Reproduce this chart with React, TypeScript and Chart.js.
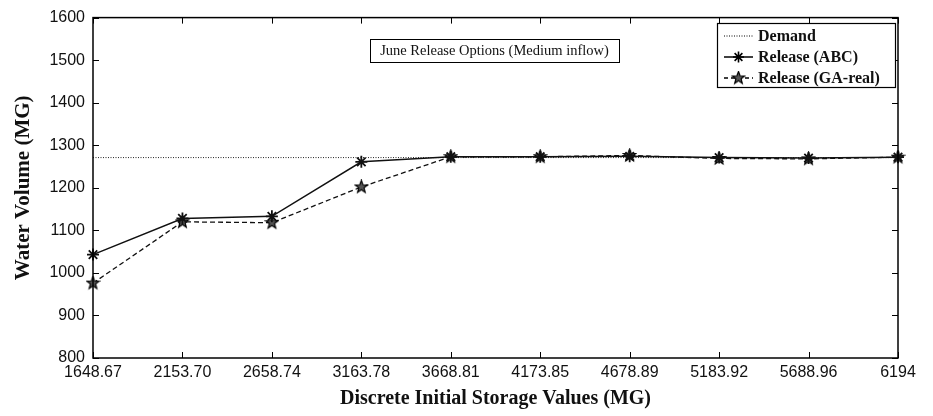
import React, { useEffect, useRef } from "react";
import { Chart, registerables } from "chart.js";

Chart.register(...registerables);

const categories = ["1648.67", "2153.70", "2658.74", "3163.78", "3668.81", "4173.85", "4678.89", "5183.92", "5688.96", "6194"];
const demand = [1271, 1271, 1271, 1271, 1271, 1271, 1271, 1271, 1271, 1271];
const releaseABC = [1043, 1128, 1133, 1261, 1273, 1273, 1274, 1271, 1270, 1272];
const releaseGA = [976, 1120, 1118, 1202, 1273, 1273, 1276, 1269, 1268, 1272];
const yTicks = [800, 900, 1000, 1100, 1200, 1300, 1400, 1500, 1600];

const annotationText = "June Release Options (Medium inflow)";
const legendLabels = ["Demand", "Release (ABC)", "Release (GA-real)"];

function makePentagram(size: number): HTMLCanvasElement {
  const c = document.createElement("canvas");
  c.width = size;
  c.height = size;
  const g = c.getContext("2d")!;
  const cx = size / 2, cy = size / 2;
  const ro = size / 2 - 1, ri = ro * 0.42;
  g.beginPath();
  for (let i = 0; i < 10; i++) {
    const r = i % 2 === 0 ? ro : ri;
    const a = -Math.PI / 2 + (i * Math.PI) / 5;
    const x = cx + r * Math.cos(a), y = cy + r * Math.sin(a);
    if (i === 0) g.moveTo(x, y); else g.lineTo(x, y);
  }
  g.closePath();
  g.fillStyle = "#555";
  g.fill();
  g.strokeStyle = "#000";
  g.lineWidth = 1.2;
  g.stroke();
  return c;
}

export default function App() {
  const ref = useRef<HTMLCanvasElement | null>(null);

  useEffect(() => {
    const canvas = ref.current!;
    const star = makePentagram(15);

    const framePlugin = {
      id: "frame",
      afterDraw(chart: any) {
        const ctx = chart.ctx;
        const a = chart.chartArea;
        const xs = chart.scales.x;
        const ys = chart.scales.y;
        ctx.save();
        ctx.strokeStyle = "#000";
        ctx.lineWidth = 1.5;
        ctx.strokeRect(a.left, a.top, a.right - a.left, a.bottom - a.top);
        ctx.lineWidth = 1;
        const tl = 6;
        ctx.beginPath();
        for (let i = 0; i < categories.length; i++) {
          const px = Math.round(xs.getPixelForValue(i)) + 0.5;
          ctx.moveTo(px, a.bottom);
          ctx.lineTo(px, a.bottom - tl);
          ctx.moveTo(px, a.top);
          ctx.lineTo(px, a.top + tl);
        }
        for (const v of yTicks) {
          const py = Math.round(ys.getPixelForValue(v)) + 0.5;
          ctx.moveTo(a.left, py);
          ctx.lineTo(a.left + tl, py);
          ctx.moveTo(a.right, py);
          ctx.lineTo(a.right - tl, py);
        }
        ctx.stroke();

        // annotation box
        ctx.font = "14.5px 'Liberation Serif'";
        ctx.textBaseline = "middle";
        ctx.textAlign = "center";
        const bx = 370, by = 39, bw = 249, bh = 23;
        ctx.fillStyle = "#fff";
        ctx.fillRect(bx, by, bw, bh);
        ctx.strokeStyle = "#000";
        ctx.lineWidth = 1;
        ctx.strokeRect(bx + 0.5, by + 0.5, bw, bh);
        ctx.fillStyle = "#111";
        ctx.fillText(annotationText, bx + bw / 2, by + bh / 2 + 1);

        // legend
        const lx = 717, ly = 23, lw = 178, lh = 64;
        ctx.fillStyle = "#fff";
        ctx.fillRect(lx, ly, lw, lh);
        ctx.strokeStyle = "#000";
        ctx.lineWidth = 1.2;
        ctx.strokeRect(lx + 0.5, ly + 0.5, lw, lh);
        ctx.font = "bold 16px 'Liberation Serif'";
        ctx.textAlign = "left";
        const rows = [ly + 13, ly + 34, ly + 55];
        const sx0 = lx + 7, sx1 = lx + 36;
        for (let i = 0; i < 3; i++) {
          const yy = rows[i];
          ctx.beginPath();
          ctx.strokeStyle = "#000";
          if (i === 0) { ctx.setLineDash([1, 1.5]); ctx.lineWidth = 1; }
          else if (i === 1) { ctx.setLineDash([]); ctx.lineWidth = 1.5; }
          else { ctx.setLineDash([4, 3]); ctx.lineWidth = 1.3; }
          ctx.moveTo(sx0, yy);
          ctx.lineTo(sx1, yy);
          ctx.stroke();
          ctx.setLineDash([]);
          const mx = (sx0 + sx1) / 2;
          if (i === 1) {
            ctx.lineWidth = 1.6;
            ctx.beginPath();
            const r = 5.5;
            ctx.moveTo(mx - r, yy); ctx.lineTo(mx + r, yy);
            ctx.moveTo(mx, yy - r); ctx.lineTo(mx, yy + r);
            const d = r * 0.707;
            ctx.moveTo(mx - d, yy - d); ctx.lineTo(mx + d, yy + d);
            ctx.moveTo(mx - d, yy + d); ctx.lineTo(mx + d, yy - d);
            ctx.stroke();
          } else if (i === 2) {
            ctx.drawImage(star, mx - 7.5, yy - 7.5);
          }
          ctx.fillStyle = "#111";
          ctx.fillText(legendLabels[i], lx + 41, yy + 1);
        }
        ctx.restore();
      },
    };

    const chart = new Chart(canvas, {
      type: "line",
      data: {
        labels: categories,
        datasets: [
          {
            label: "Release (ABC)",
            data: releaseABC,
            borderColor: "#111",
            borderWidth: 1.5,
            pointStyle: "star",
            pointRadius: 6,
            pointBorderWidth: 1.8,
            pointBorderColor: "#111",
            pointBackgroundColor: "#111",
            tension: 0,
            order: 1,
          },
          {
            label: "Release (GA-real)",
            data: releaseGA,
            borderColor: "#111",
            borderWidth: 1.3,
            borderDash: [5, 3],
            pointStyle: star as any,
            pointRadius: 7,
            tension: 0,
            order: 2,
          },
          {
            label: "Demand",
            data: demand,
            borderColor: "#222",
            borderWidth: 1,
            borderDash: [1, 1.5],
            pointRadius: 0,
            tension: 0,
            order: 3,
          },
        ],
      },
      options: {
        animation: false,
        responsive: true,
        maintainAspectRatio: false,
        layout: { padding: { top: 17, right: 35, left: 0, bottom: 0 } },
        plugins: { legend: { display: false }, tooltip: { enabled: false } },
        scales: {
          x: {
            type: "category",
            offset: false,
            grid: { display: false, drawTicks: false, tickLength: 0 },
            border: { display: false },
            ticks: {
              autoSkip: false,
              maxRotation: 0,
              minRotation: 0,
              padding: 5,
              color: "#111",
              font: { family: "'Liberation Sans', Arial, sans-serif", size: 16 },
            },
            title: {
              display: true,
              text: "Discrete Initial Storage Values (MG)",
              color: "#111",
              font: { family: "'Liberation Serif', serif", size: 20, weight: "bold" },
              padding: { top: 0, bottom: 5 },
            },
            afterFit(scale: any) {
              scale.height = 58;
            },
          },
          y: {
            min: 800,
            max: 1600,
            grid: { display: false, drawTicks: false, tickLength: 0 },
            border: { display: false },
            afterBuildTicks(scale: any) {
              scale.ticks = yTicks.map((v) => ({ value: v }));
            },
            ticks: {
              padding: 8,
              color: "#111",
              font: { family: "'Liberation Sans', Arial, sans-serif", size: 16 },
              callback: (v: any) => String(v),
            },
            title: {
              display: true,
              text: "Water Volume (MG)",
              color: "#111",
              font: { family: "'Liberation Serif', serif", size: 21, weight: "bold" },
              padding: { top: 11, bottom: 0 },
            },
            afterFit(scale: any) {
              scale.width = 93;
            },
          },
        },
      },
      plugins: [framePlugin],
    });
    return () => chart.destroy();
  }, []);

  return (
    <div style={{ position: "fixed", left: 0, top: 0, width: 933, height: 416, background: "#fff" }}>
      <canvas ref={ref} />
    </div>
  );
}
